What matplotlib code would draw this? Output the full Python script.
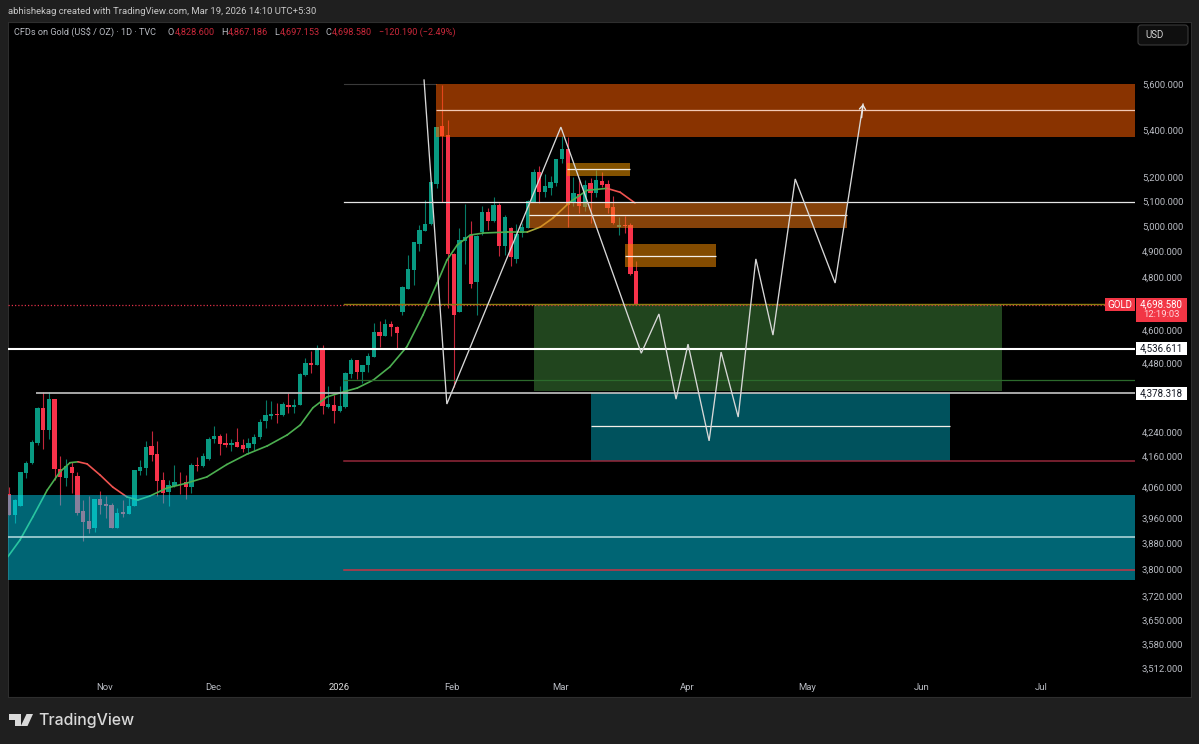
import matplotlib
matplotlib.use("Agg")
import matplotlib.pyplot as plt
from matplotlib.patches import Rectangle, Polygon, FancyBboxPatch
from matplotlib.transforms import ScaledTranslation

plt.rcParams['font.family'] = ['Roboto', 'DejaVu Sans']

# ---------- candles (daily OHLC) ----------
opens = [4041,3971,4000,4109,4141,4208,4328,4252,4358,4122,4093,4127,4097,3984,3952,3930,4025,4006,4003,3932,
         3981,3975,4000,4115,4124,4197,4170,4086,4045,4065,4076,4077,4062,4133,4130,4155,4222,4231,4207,4200,
         4210,4200,4191,4206,4229,4281,4300,4307,4303,4339,4331,4337,4443,4485,4478,4539,4331,4339,4316,4331,
         4446,4496,4454,4478,4508,4600,4585,4629,4618,4672,4761,4831,4935,4987,5012,5176,5422,5383,4895,4672,
         4944,4969,4785,4982,5062,5026,5088,4924,4999,4876,4977,4999,5104,5227,5142,5158,5182,5279,5325,5104,
         5134,5081,5180,5138,5189,5176,5082,5003,5010,5010,4828.6]
highs = [4062,4025,4111,4148,4217,4331,4382,4382,4360,4163,4155,4144,4110,4019,4032,4025,4049,4032,4009,3993,
         4019,4028,4117,4150,4214,4248,4214,4111,4084,4133,4111,4100,4141,4161,4174,4229,4266,4237,4243,4221,
         4260,4221,4223,4238,4289,4355,4353,4343,4349,4378,4357,4449,4502,4529,4551,4551,4404,4372,4404,4455,
         4502,4498,4480,4520,4632,4638,4647,4638,4622,4770,4889,4940,5010,5110,5193,5419,5603,5450,4897,4997,
         5093,5026,4970,5086,5079,5124,5097,5050,5003,5012,5016,5110,5237,5251,5217,5210,5280,5379,5376,5207,
         5193,5193,5200,5234,5224,5193,5128,5040,5046,5016,4867.186]
lows = [3971,3947,4000,4092,4139,4200,4187,4220,4084,4005,4067,4044,3971,3890,3916,3919,3977,3963,3932,3930,
        3966,3975,4000,4103,4100,4148,4033,4009,4002,4062,4041,4023,4043,4113,4128,4152,4209,4167,4195,4180,
        4193,4178,4172,4184,4220,4259,4288,4274,4301,4310,4310,4337,4441,4451,4478,4307,4326,4277,4314,4326,
        4431,4428,4413,4454,4508,4545,4585,4584,4541,4663,4761,4776,4905,4987,5010,5158,5104,4688,4402,4672,
        4855,4763,4663,4970,4990,5023,4885,4889,4846,4859,4963,4999,5104,5100,5124,5131,5169,5262,5000,5084,
        5057,5064,5019,5121,5165,5057,5012,4970,4977,4811,4697.153]
closes = [3971,4019,4111,4142,4210,4328,4252,4358,4122,4095,4130,4108,3980,3950,3927,4025,4003,4002,3932,3980,
          3976,4002,4117,4127,4195,4169,4082,4043,4068,4077,4074,4062,4135,4130,4163,4222,4231,4206,4200,4207,
          4195,4189,4208,4229,4279,4302,4307,4303,4340,4331,4339,4447,4484,4478,4539,4334,4340,4318,4334,4449,
          4496,4454,4478,4510,4600,4585,4629,4616,4594,4765,4837,4940,4990,5012,5185,5419,5379,4895,4660,4950,
          4963,4777,4967,5062,5026,5088,4924,5043,4882,4974,5002,5108,5226,5142,5168,5185,5279,5325,5090,5140,
          5084,5173,5138,5193,5172,5078,5016,5010,5007,4818,4698.58]

# ---------- moving average ----------
ma_index = [-0.2,1.9,4.2,6.7,8.9,10.7,12.1,13.7,16,18.2,20.7,22.6,24.7,27.7,31.2,34.7,38.2,41.7,45.3,48.8,
            51.1,53.3,55.8,58.1,61.1,63.9,66.8,69.8,72.6,75.1,76.8,78.6,80.9,83.2,87.4,90.9,93.2,95.4,98.4,
            101.4,104.9,107.2,109.8]
ma_price = [3842,3893,3967,4052,4111,4142,4145,4138,4101,4062,4030,4020,4033,4059,4075,4095,4136,4170,4198,4235,
            4269,4328,4366,4380,4397,4425,4472,4545,4661,4782,4870,4929,4969,4977,4981,4981,5001,5037,
            5102,5150,5158,5142,5098]
ma_kind = ['g']*6 + ['r']*4 + ['g']*25 + ['o']*3 + ['g']*2 + ['r']*2

# ---------- hand-drawn projection path ----------
path_index = [72.8,76.8,96.8,110.9,114,117,119.1,122.8,124.9,127.9,131,134,137.9,144.9,149.8]
path_price = [5625,4341,5417,4521,4665,4358,4554,4215,4525,4296,4875,4587,5197,4782,5518]

# ---------- zones: x0, x1 (bar index), price low, price high, mid line ----------
zone_orange_big = (74.9, 197.5, 5374, 5607, 5491)
zone_orange_mid = (91.2, 147.0, 4997, 5102, 5049)
zone_gold_top = (97.9, 108.9, 5208, 5262, 5237)
zone_gold_low = (108.1, 124.0, 4843, 4932, 4888)
zone_green = (92.1, 174.2, 4387, 4698.58, 4536.611)
zone_teal_small = (102.1, 165.1, 4147, 4378.318, 4265)
zone_teal_big = (-0.2, 197.5, 3771, 4036, 3903)

# ---------- horizontal levels ----------
level_top = 5607
level_5100 = 5102
level_olive = 4702
level_last = 4698.58
level_white = 4536.611
level_green = 4425
level_grey = 4378.318
level_red_a = 4147
level_red_b = 3801

# ---------- axis labels ----------
price_ticks = [5600,5400,5200,5100,5000,4900,4800,4600,4480,4240,4160,4060,3960,3880,3800,3720,3650,3580,3512]
time_ticks = [16.8,35.8,58,77.7,96.8,119,140,160,181]
time_labels = ['Nov','Dec','2026','Feb','Mar','Apr','May','Jun','Jul']

W, H = 1199, 744
UP, DOWN = '#089981', '#f7324a'
TXT = '#b8bbc2'
SCALE_RED = '#f23645'
FS = 6.8

def fx(x): return x / W
def fy(y): return 1 - y / H

fig = plt.figure(figsize=(W/100, H/100), dpi=100, facecolor='#1f1f1f')
bg = fig.add_axes([fx(7.5), fy(696.5), fx(1191-7.5), (696.5-22)/H], facecolor='#000000', zorder=-5)
bg.set_xticks([]); bg.set_yticks([])
for s in bg.spines.values():
    s.set_color('#2e2e2e'); s.set_linewidth(0.8)

ax = fig.add_axes([fx(8), fy(696), fx(1135-8), (696-22)/H], facecolor='none', zorder=1)
ax.set_yscale('log')
ax.set_xlim(-0.175, 197.5)
ax.set_ylim(3437, 5892)
for s in ax.spines.values():
    s.set_visible(False)

# candles
for i, (o, h, l, c) in enumerate(zip(opens, highs, lows, closes)):
    col = UP if c >= o else DOWN
    ax.plot([i, i], [l, h], color=col, lw=0.8, alpha=0.8, zorder=3, solid_capstyle='butt')
    ax.bar(i, abs(c - o) or 1, bottom=min(o, c), width=0.76, color=col, lw=0, zorder=3)

# moving average
ma_colors = {'g': '#4caf50', 'r': '#ef5350', 'o': '#a8a83a'}
for k in range(len(ma_index) - 1):
    ax.plot(ma_index[k:k+2], ma_price[k:k+2], color=ma_colors[ma_kind[k]], lw=1.2, zorder=4,
            solid_capstyle='round')

# zones
def zone(z, color, alpha, line='#f3efe8', lw=0.9):
    x0, x1, lo, hi, mid = z
    ax.add_patch(Rectangle((x0, lo), x1 - x0, hi - lo, facecolor=color, alpha=alpha, lw=0, zorder=5))
    if line:
        ax.plot([x0, x1], [mid, mid], color=line, lw=lw, zorder=6, solid_capstyle='butt')

zone(zone_orange_big, '#ff6000', 0.54, line='#f2c9b4')
zone(zone_orange_mid, '#f87c14', 0.54)
zone(zone_gold_top, '#f49800', 0.54)
zone(zone_gold_low, '#f08a00', 0.55)
zone(zone_green, '#4a9a44', 0.45, line=None)
zone(zone_teal_small, '#00a8c0', 0.49)
zone(zone_teal_big, '#00deff', 0.46, line='#b9dde0', lw=1.1)

# levels
ax.plot([58.8, 74.9], [level_top]*2, color='#3a3a3a', lw=0.8, zorder=2)
ax.plot([58.8, 197.5], [level_5100]*2, color='#e6e6e6', lw=0.9, zorder=6)
ax.plot([-0.2, 197.5], [level_last]*2, color='#e03048', lw=0.9, ls=(0, (1, 1.6)), zorder=6)
ax.plot([58.8, 197.5], [level_olive]*2, color='#8d7d10', lw=1.0, zorder=6)
ax.plot([-0.2, 197.5], [level_white]*2, color='#ffffff', lw=1.5, zorder=6, solid_capstyle='butt')
ax.plot([58.8, 197.5], [level_green]*2, color='#2c6a2c', lw=0.9, zorder=6)
ax.plot([4.7, 197.5], [level_grey]*2, color='#c4c4c4', lw=1.2, zorder=6, solid_capstyle='butt')
ax.plot([58.8, 197.5], [level_red_a]*2, color='#94283a', lw=1.1, zorder=6)
ax.plot([58.8, 197.5], [level_red_b]*2, color='#c83444', lw=1.1, zorder=6)

# projection path and arrow head
ax.plot(path_index, path_price, color='#d8d8d8', lw=0.95, zorder=7, solid_joinstyle='miter')
ax.annotate('', xy=(path_index[-1], path_price[-1]), xytext=(path_index[-1] - 0.25, path_price[-1] - 60),
            arrowprops=dict(arrowstyle='->,head_length=0.3,head_width=0.22', color='#e8e8e8', lw=1.0,
                            shrinkA=0, shrinkB=0), zorder=7)

# price axis
ax.yaxis.tick_right()
ax.set_yticks(price_ticks)
ax.set_yticklabels([f'{t:,.3f}' for t in price_ticks])
ax.minorticks_off()
ax.tick_params(axis='y', length=0, pad=5, labelsize=FS, labelcolor=TXT)
nudge = ScaledTranslation(0, 1/100, fig.dpi_scale_trans)
for lab in ax.get_yticklabels():
    lab.set_transform(lab.get_transform() + nudge)

# time axis
ax.set_xticks(time_ticks)
ax.set_xticklabels(time_labels)
ax.tick_params(axis='x', length=0, pad=-9.2, labelsize=FS, labelcolor=TXT)
for lab, t in zip(ax.get_xticklabels(), time_labels):
    if t == '2026':
        lab.set_color('#dcdcdc')

# price-scale tags
def box(x0, x1, y0, y1, color, z=9):
    fig.add_artist(Rectangle((fx(x0), fy(y1)), (x1 - x0)/W, (y1 - y0)/H, transform=fig.transFigure,
                             facecolor=color, lw=0, zorder=z))
box(1105, 1135, 298, 311, SCALE_RED)
box(1135.5, 1187, 298, 322, SCALE_RED)
box(1135.5, 1187, 342, 355, '#ffffff')
box(1135.5, 1187, 386.5, 400, '#ffffff')
def label(x, y, s, color=TXT, size=FS, ha='left', **kw):
    fig.text(fx(x), fy(y), s, color=color, fontsize=size, ha=ha, va='center', zorder=10, **kw)
label(1120, 304.5, 'GOLD', '#ffffff', 7.0, ha='center')
label(1161, 304.5, '4,698.580', '#ffffff', 7.0, ha='center')
label(1161, 315, '12:19:03', '#ffd5da', 6.8, ha='center')
label(1161, 348.5, '4,536.611', '#131722', 7.0, ha='center')
label(1161, 393.5, '4,378.318', '#131722', 7.0, ha='center')

# USD button
fig.add_artist(FancyBboxPatch((fx(1138), fy(45)), 50/W, 20/H,
                              boxstyle=f'round,pad=0,rounding_size={3/W}', transform=fig.transFigure,
                              facecolor='#0f0f0f', edgecolor='#3a3a3a', lw=0.8, zorder=8,
                              mutation_aspect=W/H))
label(1145, 35, 'USD', '#d4d4d4', 7.0)

# header text
label(8, 11.5, 'abhishekag created with TradingView.com, Mar 19, 2026 14:10 UTC+5:30', '#c8c8c8', 6.8)
label(14, 32.5, 'CFDs on Gold (US$ / OZ) · 1D · TVC', TXT, 6.6)
VAL = '#c8283a'
for x, s, c in [(167.5, 'O', TXT), (175, '4,828.600', VAL), (221.5, 'H', TXT), (228, '4,867.186', VAL),
                (274, 'L', TXT), (280, '4,697.153', VAL), (326, 'C', TXT), (332, '4,698.580', VAL),
                (379, '−120.190 (−2.49%)', VAL)]:
    label(x, 32.5, s, c, 6.6)

# TradingView logo
logo = '#d9d9d9'
for pts in ([(9, 714), (21, 714), (21, 726), (15, 726), (15, 719.5), (9, 719.5)],
            [(26.5, 714), (33, 714), (27.5, 726), (20.8, 726)]):
    fig.add_artist(Polygon([(fx(a), fy(b)) for a, b in pts], closed=True, transform=fig.transFigure,
                           facecolor=logo, lw=0, zorder=9))
fig.text(fx(38), fy(720.5), 'TradingView', color=logo, fontsize=11.4, fontweight='medium', ha='left', va='center',
         family=['Inter', 'DejaVu Sans'])

fig.savefig('out.png', dpi=100, facecolor=fig.get_facecolor())
